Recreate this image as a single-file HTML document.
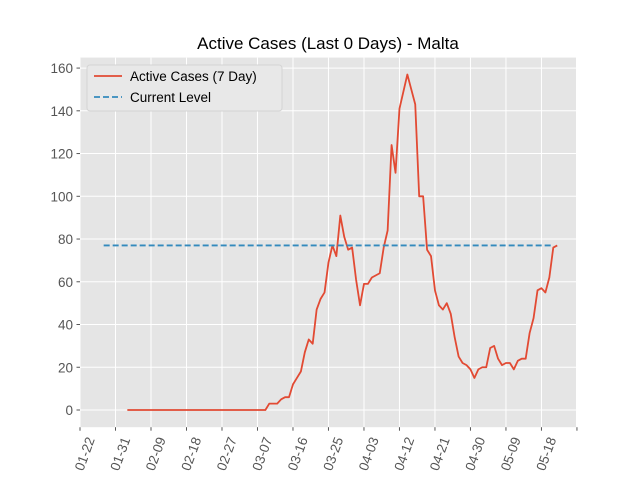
<!DOCTYPE html>
<html><head><meta charset="utf-8">
<style>
html,body{margin:0;padding:0;background:#fff;}
svg{display:block;font-family:"Liberation Sans","DejaVu Sans",sans-serif;}
</style></head>
<body>
<svg id="chart" width="640" height="480" viewBox="0 0 640 480">
  <rect x="0" y="0" width="640" height="480" fill="#ffffff"/>
  <rect x="80" y="57.6" width="496" height="369.6" fill="#E5E5E5"/>
  <g id="grid"></g>
  <g id="series"></g>
  <g id="axes"></g>
  <text x="328" y="49" text-anchor="middle" font-size="17" fill="#000">Active Cases (Last 0 Days) - Malta</text>
  <g>
    <rect x="87" y="65" width="195" height="46" rx="3" fill="#E8E8E8" stroke="#d4d4d4"/>
    <line x1="94" y1="76" x2="122" y2="76" stroke="#E24A33" stroke-width="1.8"/>
    <text x="130" y="81" font-size="13.5" fill="#000">Active Cases (7 Day)</text>
    <line x1="94" y1="97" x2="122" y2="97" stroke="#348ABD" stroke-width="1.8" stroke-dasharray="6,3"/>
    <text x="130" y="102" font-size="13.5" fill="#000">Current Level</text>
  </g>
</svg>
<script>
// Data (day offsets from 01-22)
const startDay = 12;
const activeCases = [0,0,0,0,0,0,0,0,0,0,0,0,0,0,0,0,0,0,0,0,0,0,0,0,0,0,0,0,0,0,0,0,0,0,0,0,
  3,3,3,5,6,6,12,15,18,27,33,31,47,52,55,69,77,72,91,81,75,76,61,49,59,59,62,63,64,76,84,
  124,111,141,149,157,150,143,100,100,
  75,72,56,49,47,50,45,34,25,22,21,19,15,19,20,20,29,30,24,21,22,22,19,23,24,24,36,43,56,57,55,62,76,77];
const currentLevel = [77];
const levelDays = [6, 120];
const xTickDays = [0,9,18,27,36,45,54,63,72,81,90,99,108,117,126];
const xTickLabels = ["01-22","01-31","02-09","02-18","02-27","03-07","03-16","03-25","04-03","04-12","04-21","04-30","05-09","05-18",""];
const yTicks = [0,20,40,60,80,100,120,140,160];

const NS = "http://www.w3.org/2000/svg";
const L = 80, R = 576, T = 57.6, B = 427.2;
const xMin = 0, xMax = 125.76, yMin = -8.05, yMax = 164.9;
const xs = d => L + (d - xMin) / (xMax - xMin) * (R - L);
const ys = v => B - (v - yMin) / (yMax - yMin) * (B - T);
function mk(tag, attrs, parent) {
  const e = document.createElementNS(NS, tag);
  for (const k in attrs) e.setAttribute(k, attrs[k]);
  parent.appendChild(e);
  return e;
}
const grid = document.getElementById('grid');
const axes = document.getElementById('axes');
const series = document.getElementById('series');

yTicks.forEach(v => {
  const y = ys(v);
  const g = mk('line', {x1: L, x2: R, y1: y, y2: y, stroke: '#fff', 'stroke-width': 1}, grid);
  
  
  const t = mk('line', {x1: L - 3.5, x2: L, y1: y, y2: y, stroke: '#555', 'stroke-width': 1}, axes);
  
  
  const lb = mk('text', {x: L - 7, y: y + 5, 'text-anchor': 'end', 'font-size': 13.5, fill: '#555'}, axes);
  lb.textContent = v;
  
  
});
xTickDays.forEach((d, i) => {
  const x = xs(d);
  const g = mk('line', {x1: x, x2: x, y1: T, y2: B, stroke: '#fff', 'stroke-width': 1}, grid);
  
  
  const t = mk('line', {x1: x, x2: x, y1: B, y2: B + 3.5, stroke: '#555', 'stroke-width': 1}, axes);
  
  
  if (xTickLabels[i]) {
    const ax = x + 15, ay = B + 12;
    const lb = mk('text', {x: ax, y: ay, 'text-anchor': 'end', 'font-size': 13.5, fill: '#555',
      transform: `rotate(-70 ${ax} ${ay})`}, axes);
    lb.textContent = xTickLabels[i];
    
    
  }
});

const pts = activeCases.map((v, i) => xs(startDay + i).toFixed(2) + ',' + ys(v).toFixed(2)).join(' ');
const line = mk('polyline', {points: pts, fill: 'none', stroke: '#E24A33', 'stroke-width': 1.8, 'stroke-linejoin': 'round'}, series);



const lvl = mk('line', {x1: xs(levelDays[0]), x2: xs(levelDays[1]), y1: ys(currentLevel[0]), y2: ys(currentLevel[0]),
  stroke: '#348ABD', 'stroke-width': 1.8, 'stroke-dasharray': '6,3'}, series);


</script>
</body></html>
